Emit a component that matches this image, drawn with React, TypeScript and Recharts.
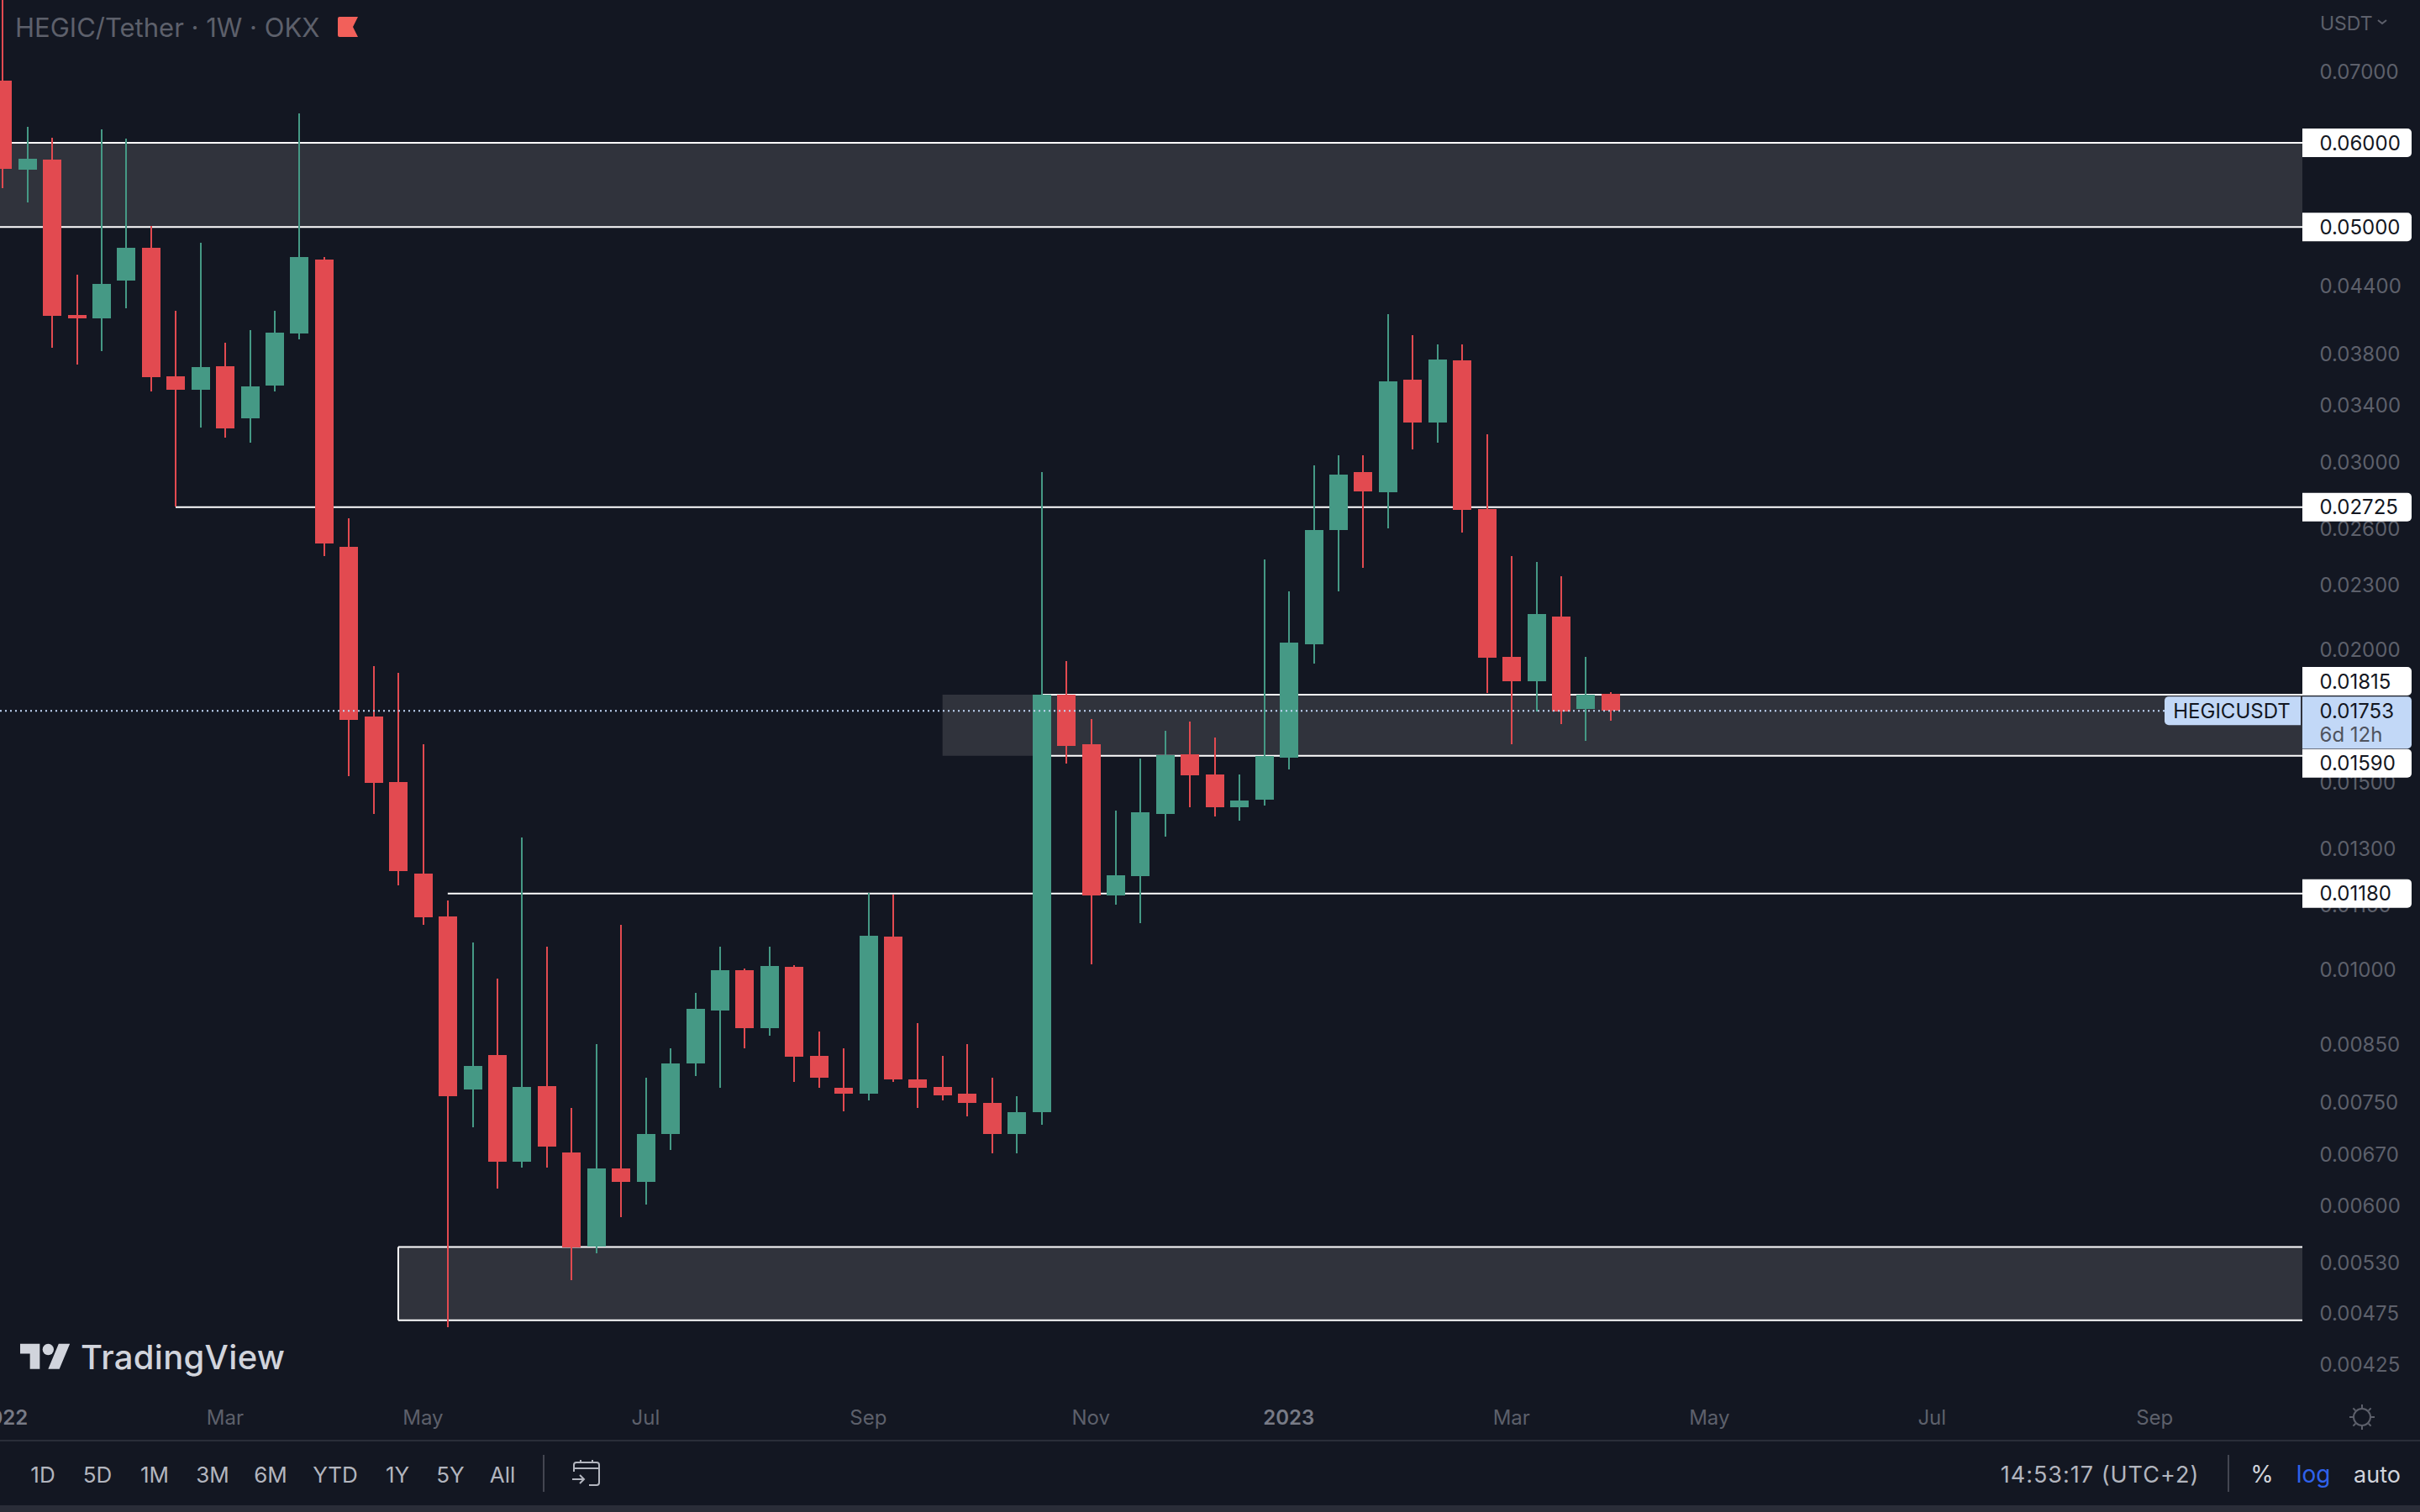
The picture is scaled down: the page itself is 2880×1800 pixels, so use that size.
import React from "react"
import {
  Bar,
  ComposedChart,
  ReferenceArea,
  ReferenceLine,
  XAxis,
  YAxis,
} from "recharts"

// weekly candles, HEGIC/USDT
const opens = [
  0.06868, 0.0566, 0.05784, 0.04132, 0.04102, 0.04452, 0.04779, 0.03618, 0.03514, 0.03698, 0.03303,
  0.03546, 0.0397, 0.04659, 0.025, 0.01732, 0.01502, 0.01232, 0.01123, 0.00771, 0.00832, 0.0066,
  0.00778, 0.00673, 0.00549, 0.0065, 0.00632, 0.00701, 0.00817, 0.00916, 0.01, 0.00882, 0.01007,
  0.0083, 0.00774, 0.00765, 0.01075, 0.00789, 0.00776, 0.00764, 0.0075, 0.00701, 0.00735, 0.01816,
  0.01631, 0.01175, 0.01226, 0.01402, 0.01595, 0.01527, 0.01422, 0.01446, 0.01584, 0.02024, 0.02593,
  0.0294, 0.02814, 0.03592, 0.03273, 0.03747, 0.02714, 0.01971, 0.0187, 0.02148, 0.0176, 0.0182,
]
const closes = [
  0.05671, 0.05795, 0.04124, 0.04102, 0.04419, 0.04779, 0.03612, 0.03514, 0.03691, 0.03232, 0.0354,
  0.03977, 0.04685, 0.02519, 0.01719, 0.01499, 0.01239, 0.01121, 0.00761, 0.00812, 0.0066, 0.00776,
  0.00682, 0.00548, 0.0065, 0.00632, 0.00701, 0.00817, 0.00919, 0.01, 0.00882, 0.01009, 0.00829,
  0.00792, 0.00765, 0.01077, 0.00789, 0.00775, 0.00762, 0.00749, 0.00701, 0.00735, 0.01814, 0.01625,
  0.01175, 0.01228, 0.01406, 0.01592, 0.01524, 0.01422, 0.01443, 0.0159, 0.02032, 0.02593, 0.02924,
  0.0282, 0.03579, 0.03273, 0.03754, 0.02709, 0.01967, 0.0187, 0.0216, 0.01751, 0.01816, 0.01753,
]
const highs = [
  0.09, 0.06211, 0.06065, 0.04509, 0.06177, 0.06054, 0.05011, 0.04169, 0.04832, 0.03891, 0.03998,
  0.04169, 0.06394, 0.04685, 0.0266, 0.01931, 0.01904, 0.01631, 0.01163, 0.01062, 0.00982, 0.01332,
  0.01052, 0.00742, 0.00852, 0.01103, 0.00792, 0.00843, 0.00952, 0.01052, 0.01002, 0.01052, 0.01011,
  0.00875, 0.00844, 0.01182, 0.01177, 0.00891, 0.0083, 0.00852, 0.00792, 0.00761, 0.0294, 0.01953,
  0.01722, 0.01412, 0.01581, 0.01678, 0.01713, 0.01654, 0.01527, 0.02433, 0.0227, 0.02983, 0.03049,
  0.03049, 0.0414, 0.03955, 0.03877, 0.03877, 0.03191, 0.0245, 0.0242, 0.02348, 0.01971, 0.01825,
]
const lows = [
  0.05438, 0.05272, 0.03849, 0.03712, 0.03821, 0.04192, 0.03502, 0.02729, 0.03238, 0.03168, 0.03133,
  0.03502, 0.03919, 0.02451, 0.01522, 0.01402, 0.01201, 0.01103, 0.00461, 0.00711, 0.00622, 0.00652,
  0.00652, 0.00511, 0.00541, 0.00585, 0.00601, 0.00677, 0.00795, 0.00775, 0.00843, 0.00867, 0.00784,
  0.00774, 0.00736, 0.00753, 0.00785, 0.00742, 0.00753, 0.00728, 0.00672, 0.00672, 0.00715, 0.01564,
  0.01012, 0.01152, 0.01107, 0.01335, 0.01422, 0.01394, 0.01381, 0.01427, 0.01544, 0.01942, 0.0227,
  0.02388, 0.02603, 0.03089, 0.03133, 0.02579, 0.01822, 0.01631, 0.01751, 0.01703, 0.01642, 0.01716,
]

const priceTicks = [
  0.07, 0.044, 0.038, 0.034, 0.03, 0.026, 0.023, 0.02, 0.015, 0.013, 0.0115, 0.01, 0.0085, 0.0075,
  0.0067, 0.006, 0.0053, 0.00475, 0.00425,
]
const levelTicks = [0.06, 0.05, 0.02725, 0.01815, 0.0159, 0.0118]
const lastPrice = 0.01753

const monthTicks = [0, 9, 17, 26, 35, 44, 52, 61, 69, 78, 87]
const monthLabels = ["2022", "Mar", "May", "Jul", "Sep", "Nov", "2023", "Mar", "May", "Jul", "Sep"]
const yearTicks = [0, 52]

const rangeButtons = ["1D", "5D", "1M", "3M", "6M", "YTD", "1Y", "5Y", "All"]

const candles = opens.map((open, i) => ({
  index: i,
  open,
  close: closes[i],
  wick: [lows[i], highs[i]],
  body: [Math.min(open, closes[i]), Math.max(open, closes[i])],
}))

const xDomain = [-0.0985, 92.97]
const yDomain = [0.003986, 0.08176]

const BG = "#131722"
const RED = "#e24a50"
const GREEN = "#459985"
const ZONE = "#30333c"
const MUTED = "#5d606b"
const BLUE_TAG = "#c2d8f7"
const FONT = "Inter, sans-serif"

const candleShape = (props: any) => {
  const { x, y, width, height, payload } = props
  return (
    <rect
      x={x}
      y={y}
      width={width}
      height={height}
      fill={payload.close >= payload.open ? GREEN : RED}
      shapeRendering="crispEdges"
    />
  )
}

const roundedRight = (x: number, y: number, w: number, h: number, r: number) =>
  `M${x} ${y}h${w - r}a${r} ${r} 0 0 1 ${r} ${r}v${h - 2 * r}a${r} ${r} 0 0 1 -${r} ${r}h-${w - r}z`
const roundedLeft = (x: number, y: number, w: number, h: number, r: number) =>
  `M${x + w} ${y}h-${w - r}a${r} ${r} 0 0 0 -${r} ${r}v${h - 2 * r}a${r} ${r} 0 0 0 ${r} ${r}h${w - r}z`

// badges get pushed off their level when they would collide with the last price badge
const badgeShift: Record<number, number> = { 0.01815: -16, 0.0159: 9 }

const PriceTick = (props: any) => {
  const { x, y, payload } = props
  const value = payload.value as number
  const text = value.toFixed(5)
  const textX = x + 20.5
  const common = { fontFamily: FONT, fontSize: 24, dominantBaseline: "central" as const }

  if (value === lastPrice) {
    return (
      <g>
        <path d={roundedLeft(x - 164, y - 17, 162, 34, 5)} fill={BLUE_TAG} />
        <text {...common} x={x - 84} y={y} fill="#131722" textAnchor="middle">
          HEGICUSDT
        </text>
        <path d={roundedRight(x, y - 17, 130, 62, 5)} fill={BLUE_TAG} />
        <text {...common} x={textX} y={y} fill="#131722">
          {text}
        </text>
        <text {...common} x={textX} y={y + 28} fill="#4f535e">
          6d 12h
        </text>
      </g>
    )
  }
  if (levelTicks.includes(value)) {
    const cy = y + (badgeShift[value] ?? 0)
    return (
      <g>
        <path d={roundedRight(x, cy - 17, 130, 34, 5)} fill="#ffffff" />
        <text {...common} x={textX} y={cy} fill="#131722">
          {text}
        </text>
      </g>
    )
  }
  return (
    <text {...common} x={textX} y={y} fill={MUTED}>
      {text}
    </text>
  )
}

const MonthTick = (props: any) => {
  const { x, y, payload } = props
  const isYear = yearTicks.includes(payload.value)
  return (
    <text
      x={x}
      y={y + 27}
      textAnchor="middle"
      dominantBaseline="central"
      fontFamily={FONT}
      fontSize={24}
      fontWeight={isYear ? 600 : 400}
      fill={isYear ? "#787b86" : MUTED}
    >
      {monthLabels[monthTicks.indexOf(payload.value)]}
    </text>
  )
}

const label = (left: number, top: number, text: string, style: React.CSSProperties = {}) => (
  <div
    key={text + left}
    style={{
      position: "absolute",
      left,
      top,
      transform: "translate(-50%, -50%)",
      whiteSpace: "nowrap",
      fontFamily: FONT,
      fontSize: 26,
      color: "#b2b5be",
      ...style,
    }}
  >
    {text}
  </div>
)

const rangeCenters = [51, 116, 184, 253, 322, 399, 473, 536, 598]

const sunAngles = [0, 45, 90, 135, 180, 225, 270, 315]

export default function App() {
  return (
    <div style={{ position: "absolute", left: 0, top: 0, width: 2880, height: 1800, background: BG, overflow: "hidden" }}>
      <ComposedChart
        width={2880}
        height={1800}
        data={candles}
        margin={{ top: 0, right: 0, bottom: 80, left: 0 }}
        barGap={0}
      >
        <XAxis
          xAxisId="body"
          dataKey="index"
          type="number"
          scale="linear"
          domain={xDomain}
          allowDataOverflow
          ticks={monthTicks}
          interval={0}
          tick={<MonthTick />}
          tickLine={false}
          axisLine={false}
          tickSize={0}
          tickMargin={0}
          height={60}
        />
        <XAxis xAxisId="wick" dataKey="index" type="number" scale="linear" domain={xDomain} allowDataOverflow hide />
        <YAxis
          yAxisId="price"
          orientation="right"
          type="number"
          scale="log"
          domain={yDomain}
          allowDataOverflow
          ticks={[...priceTicks, ...levelTicks, lastPrice]}
          interval={0}
          tick={<PriceTick />}
          tickLine={false}
          axisLine={false}
          tickSize={0}
          tickMargin={0}
          width={140}
        />

        <ReferenceArea xAxisId="body" yAxisId="price" x1={xDomain[0]} x2={xDomain[1]} y1={0.05} y2={0.06} fill={ZONE} fillOpacity={1} stroke="none" zIndex={10} />
        <ReferenceArea xAxisId="body" yAxisId="price" x1={38} x2={xDomain[1]} y1={0.0159} y2={0.01815} fill={ZONE} fillOpacity={1} stroke="none" zIndex={10} />
        <ReferenceArea xAxisId="body" yAxisId="price" x1={16} x2={xDomain[1]} y1={0.004681} y2={0.005486} fill={ZONE} fillOpacity={1} stroke="none" zIndex={10} />

        {[
          [xDomain[0], 0.06, xDomain[1], 0.06],
          [xDomain[0], 0.05, xDomain[1], 0.05],
          [7, 0.02725, xDomain[1], 0.02725],
          [42, 0.01815, xDomain[1], 0.01815],
          [42, 0.0159, xDomain[1], 0.0159],
          [18, 0.0118, xDomain[1], 0.0118],
          [16, 0.005486, xDomain[1], 0.005486],
          [16, 0.004681, xDomain[1], 0.004681],
          [16, 0.004681, 16, 0.005486],
        ].map(([x1, y1, x2, y2]) => (
          <ReferenceLine
            key={`${x1}-${y1}-${x2}-${y2}`}
            xAxisId="body"
            yAxisId="price"
            segment={[{ x: x1, y: y1 }, { x: x2, y: y2 }]}
            stroke="#ffffff"
            strokeWidth={2}
            zIndex={20}
          />
        ))}
        <ReferenceLine
          xAxisId="body"
          yAxisId="price"
          segment={[{ x: xDomain[0], y: lastPrice }, { x: xDomain[1], y: lastPrice }]}
          stroke={BLUE_TAG}
          strokeWidth={2}
          strokeDasharray="2 4"
          zIndex={450}
        />

        <Bar xAxisId="wick" yAxisId="price" dataKey="wick" barSize={2} shape={candleShape} isAnimationActive={false} />
        <Bar xAxisId="body" yAxisId="price" dataKey="body" barSize={22} shape={candleShape} isAnimationActive={false} />
      </ComposedChart>

      {/* header */}
      <div style={{ position: "absolute", left: 18, top: 14, fontFamily: FONT, fontSize: 31, color: MUTED, whiteSpace: "nowrap" }}>
        HEGIC/Tether · 1W · OKX
      </div>
      <svg style={{ position: "absolute", left: 402, top: 20 }} width={24} height={24}>
        <path d="M2 0H24L18 12L24 24H2a2 2 0 0 1 -2 -2V2a2 2 0 0 1 2 -2z" fill="#f2605a" />
      </svg>
      <div style={{ position: "absolute", left: 2761, top: 14, fontFamily: FONT, fontSize: 23, color: MUTED }}>USDT</div>
      <svg style={{ position: "absolute", left: 2829, top: 22 }} width={12} height={10}>
        <path d="M1 2l5 4 5-4" stroke={MUTED} strokeWidth={2} fill="none" />
      </svg>

      {/* watermark */}
      <svg style={{ position: "absolute", left: 24, top: 1593 }} width={60} height={47} viewBox="0 0 36 28">
        <path d="M14 22H7V11H0V4h14v18zM28 22h-8l7.5-18h8L28 22z" fill="#d1d4dc" />
        <circle cx={20} cy={8} r={4} fill="#d1d4dc" />
      </svg>
      <div style={{ position: "absolute", left: 96, top: 1591, fontFamily: FONT, fontSize: 40, fontWeight: 500, color: "#d1d4dc", whiteSpace: "nowrap", letterSpacing: 0.3 }}>
        TradingView
      </div>

      {/* sun icon of the time scale */}
      <svg style={{ position: "absolute", left: 2793, top: 1669 }} width={36} height={36} viewBox="-18 -18 36 36">
        <circle r={10} stroke={MUTED} strokeWidth={2} fill="none" />
        {sunAngles.map((a) => (
          <line key={a} x1={0} y1={-11} x2={0} y2={-15} stroke={MUTED} strokeWidth={2} transform={`rotate(${a})`} />
        ))}
      </svg>

      {/* toolbar */}
      <div style={{ position: "absolute", left: 0, top: 1714, width: 2880, height: 2, background: "#2a2e39" }} />
      {rangeButtons.map((b, i) => label(rangeCenters[i], 1755, b))}
      <div style={{ position: "absolute", left: 646, top: 1732, width: 2, height: 44, background: "#434651" }} />
      <svg style={{ position: "absolute", left: 680, top: 1737 }} width={36} height={33} viewBox="0 0 36 33">
        <path
          d="M3 15V7a3 3 0 0 1 3-3h24a3 3 0 0 1 3 3v21a3 3 0 0 1-3 3h-9M3 11h30M11 1v4M25 1v4M1 24h14M10 19l5 5-5 5"
          stroke="#b2b5be"
          strokeWidth={2}
          fill="none"
        />
      </svg>
      {label(2499, 1755, "14:53:17 (UTC+2)", { fontSize: 27, color: "#b2b5be", letterSpacing: 1 })}
      <div style={{ position: "absolute", left: 2651, top: 1732, width: 2, height: 44, background: "#434651" }} />
      {label(2692, 1755, "%", { fontSize: 28, color: "#d1d4dc" })}
      {label(2753, 1755, "log", { fontSize: 28, color: "#2f62eb" })}
      {label(2829, 1755, "auto", { fontSize: 27, color: "#d1d4dc" })}
      <div style={{ position: "absolute", left: 0, top: 1792, width: 2880, height: 8, background: "#2a2d38" }} />
    </div>
  )
}
